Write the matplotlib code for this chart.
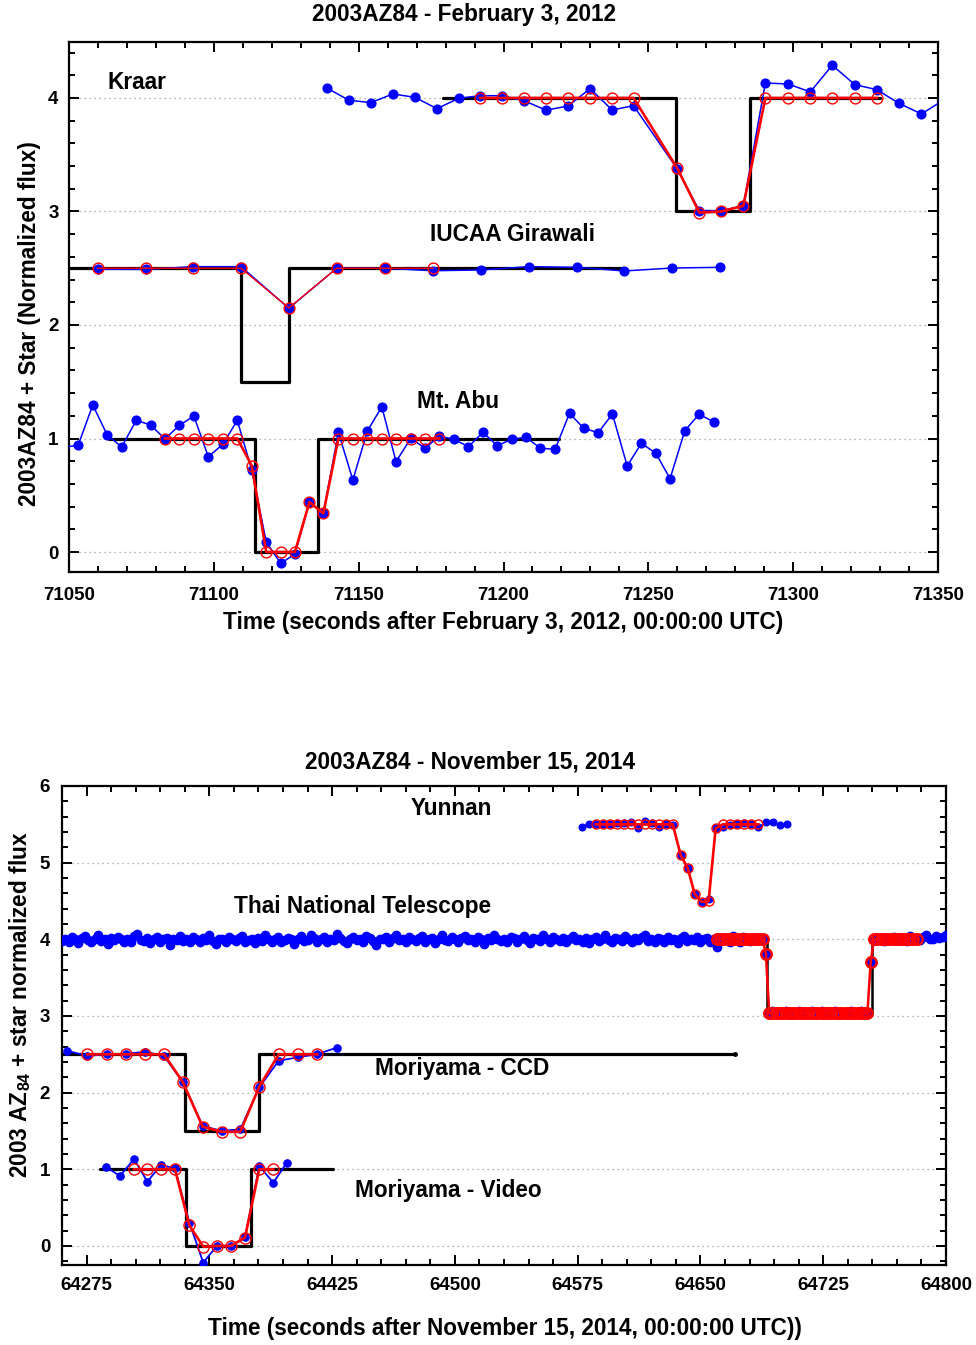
import numpy as np
import matplotlib
matplotlib.use("Agg")
import matplotlib.pyplot as plt
from matplotlib.ticker import MultipleLocator

plt.rcParams['font.family'] = ['Liberation Sans', 'DejaVu Sans']
plt.rcParams['font.weight'] = 'bold'
plt.rcParams['mathtext.fontset'] = 'custom'
plt.rcParams['mathtext.rm'] = 'Liberation Sans'
plt.rcParams['mathtext.bf'] = 'Liberation Sans:bold'

# ---------------- Panel 1 : February 3, 2012 ----------------
kraar_t = [71139.0, 71146.6, 71154.2, 71161.8, 71169.4, 71177.0, 71184.6, 71191.9,
           71199.5, 71207.1, 71214.7, 71222.3, 71229.9, 71237.5, 71244.9, 71260.0,
           71267.6, 71275.2, 71282.8, 71290.4, 71298.3, 71305.9, 71313.5, 71321.3,
           71328.9, 71336.5, 71344.3, 71351.8]
kraar_obs = [4.088, 3.980, 3.959, 4.035, 4.006, 3.906, 3.997, 4.020,
             4.020, 3.976, 3.892, 3.930, 4.082, 3.894, 3.932, 3.374,
             3.007, 3.007, 3.051, 4.132, 4.123, 4.053, 4.288, 4.117,
             4.073, 3.953, 3.859, 3.980]
kraar_model_t = kraar_t[7:25]
kraar_model = [4.0, 4.0, 4.0, 4.0, 4.0, 4.0, 4.0, 4.0,
               3.38, 2.99, 3.0, 3.05,
               4.0, 4.0, 4.0, 4.0, 4.0, 4.0]
kraar_sq_t = [71179.0, 71259.4, 71259.4, 71285.2, 71285.2, 71330.0]
kraar_sq = [4.0, 4.0, 3.0, 3.0, 4.0, 4.0]

iucaa_t = [71059.9, 71076.5, 71092.9, 71109.4, 71125.9, 71142.4, 71159.1,
           71175.6, 71192.3, 71208.7, 71225.3, 71241.7, 71258.3, 71274.8]
iucaa_obs = [2.491, 2.490, 2.514, 2.514, 2.147, 2.500, 2.500,
             2.478, 2.485, 2.514, 2.508, 2.476, 2.502, 2.508]
iucaa_model_t = iucaa_t[0:8]
iucaa_model = [2.5, 2.5, 2.5, 2.5, 2.15, 2.5, 2.5, 2.5]
iucaa_sq_t = [71045.0, 71109.4, 71109.4, 71125.9, 71125.9, 71241.7]
iucaa_sq = [2.5, 2.5, 1.5, 1.5, 2.5, 2.5]

abu_t = [71048.2, 71053.2, 71058.2, 71063.2, 71068.2, 71073.2, 71078.2, 71083.1,
         71088.1, 71093.1, 71098.1, 71103.1, 71108.1, 71113.1, 71118.1,
         71123.1, 71128.0, 71133.0, 71137.8, 71143.0, 71148.0, 71153.0,
         71158.0, 71162.9, 71168.0, 71172.9, 71177.9, 71182.8, 71187.9,
         71192.9, 71197.8, 71202.9, 71207.8, 71212.7, 71217.8, 71222.8,
         71227.7, 71232.7, 71237.6, 71242.7, 71247.6, 71252.6, 71257.5,
         71262.6, 71267.5, 71272.5]
abu_obs = [0.920, 0.943, 1.295, 1.031, 0.925, 1.160, 1.119, 0.996,
           1.116, 1.198, 0.839, 0.949, 1.160, 0.722, 0.088,
           -0.100, -0.018, 0.438, 0.341, 1.055, 0.634, 1.066,
           1.280, 0.796, 1.002, 0.914, 1.022, 0.993, 0.928,
           1.055, 0.937, 0.993, 1.011, 0.914, 0.905, 1.222,
           1.090, 1.051, 1.216, 0.758, 0.958, 0.870, 0.646,
           1.069, 1.213, 1.148]
abu_model_t = abu_t[7:27]
abu_model = [1.0, 1.0, 1.0, 1.0, 1.0, 1.0, 0.76, 0.0, 0.0, 0.0, 0.44, 0.34,
             1.0, 1.0, 1.0, 1.0, 1.0, 1.0, 1.0, 1.0]
abu_sq_t = [71063.9, 71114.2, 71114.2, 71136.1, 71136.1, 71219.0]
abu_sq = [1.0, 1.0, 0.0, 0.0, 1.0, 1.0]

# ---------------- Panel 2 : November 15, 2014 ----------------
yun_t = [64577.5, 64581.7, 64586.0, 64590.3, 64594.6, 64598.9, 64603.1, 64607.4,
         64611.7, 64616.0, 64620.3, 64624.5, 64628.8, 64633.1, 64637.9, 64642.2,
         64646.5, 64650.8, 64655.0, 64659.3, 64663.6, 64667.9, 64672.2, 64676.4,
         64680.7, 64685.3, 64689.9, 64694.1, 64698.4, 64702.7]
yun_obs = [5.469, 5.500, 5.500, 5.500, 5.500, 5.513, 5.521, 5.530,
           5.448, 5.547, 5.521, 5.465, 5.504, 5.491, 5.100, 4.934,
           4.587, 4.491, 4.522, 5.448, 5.469, 5.491, 5.504, 5.513,
           5.504, 5.461, 5.530, 5.530, 5.487, 5.500]
yun_model_t = yun_t[2:26]
yun_model = [5.5, 5.5, 5.5, 5.5, 5.5, 5.5, 5.5, 5.5, 5.5, 5.5, 5.5, 5.5,
             5.10, 4.93, 4.59, 4.49, 4.50, 5.45,
             5.5, 5.5, 5.5, 5.5, 5.5, 5.5]

# Thai National Telescope: 2-s cadence light curve
thai_start, thai_step = 64260, 2
thai_obs = [
    3.98, 4.01, 3.97, 4.03, 4.00, 3.95, 4.02, 4.04, 3.99, 3.96,
    4.01, 4.05, 3.98, 4.00, 3.94, 4.02, 3.99, 4.03, 4.01, 3.97,
    4.00, 3.96, 4.04, 4.07, 3.99, 3.98, 4.02, 3.95, 4.01, 4.03,
    3.97, 4.00, 4.02, 3.93, 4.01, 3.99, 4.04, 3.98, 4.00, 3.96,
    4.03, 4.01, 3.97, 4.02, 3.99, 4.05, 3.98, 3.94, 4.01, 4.00,
    3.96, 4.03, 4.00, 3.98, 4.02, 4.04, 3.97, 3.99, 4.01, 3.95,
    4.02, 3.98, 4.06, 4.00, 3.97, 4.01, 4.03, 3.96, 3.99, 4.02,
    4.00, 3.94, 4.01, 4.04, 3.98, 3.99, 4.05, 4.02, 3.97, 4.00,
    4.03, 3.96, 4.01, 3.99, 4.07, 4.02, 3.98, 3.95, 4.01, 4.03,
    3.99, 4.00, 3.97, 4.04, 4.02, 3.98, 3.93, 4.01, 4.00, 4.03,
    3.97, 4.02, 4.05, 3.99, 4.01, 3.96, 4.03, 4.00, 3.98, 4.02,
    4.04, 3.97, 4.00, 4.02, 3.95, 4.01, 4.06, 3.99, 3.98, 4.03,
    4.00, 3.96, 4.02, 4.04, 3.99, 4.01, 3.97, 4.03, 4.00, 3.94,
    4.02, 3.99, 4.05, 4.01, 3.98, 4.00, 3.96, 4.03, 4.02, 3.97,
    4.01, 4.04, 3.99, 3.95, 4.02, 4.00, 3.98, 4.06, 4.01, 3.97,
    4.03, 4.00, 3.98, 4.02, 3.96, 4.01, 4.04, 3.99, 4.00, 3.97,
    4.02, 3.95, 4.01, 4.03, 3.98, 4.00, 4.05, 3.99, 3.96, 4.02,
    4.01, 3.98, 4.04, 4.00, 3.97, 4.02, 3.99, 4.03, 4.06, 3.98,
    4.00, 3.96, 4.02, 4.01, 3.97, 4.03, 3.99, 4.00, 3.95, 4.02,
    4.04, 3.98, 4.01, 3.99, 4.03, 3.97, 4.00, 4.02, 3.96, 4.01,
    3.90, 3.99, 4.02, 4.01, 3.97, 4.04, 4.00, 3.96, 4.03, 4.01,
    3.98, 4.02, 4.00, 3.99, 4.01,
    3.81,
    3.04, 3.06, 3.03, 3.05, 3.04, 3.07, 3.05, 3.03, 3.04, 3.06,
    3.05, 3.04, 3.03, 3.06, 3.05, 3.04, 3.07, 3.05, 3.03, 3.04,
    3.06, 3.05, 3.04, 3.05, 3.03, 3.06, 3.04, 3.05, 3.07, 3.04, 3.05,
    3.71,
    3.99, 4.00, 4.02, 3.98, 4.01, 4.00, 4.03, 3.99, 4.02, 4.01,
    3.98, 4.04, 4.00, 4.02, 3.99, 4.03, 4.05, 4.01, 4.00, 4.04,
    4.02, 4.03, 4.05]
thai_t = thai_start + thai_step * np.arange(len(thai_obs))
thai_model_first, thai_model_last = 200, 262   # model covers 64660 .. 64782 s
thai_model = [4.0] * 15 + [3.81] + [3.04] * 31 + [3.71] + [4.0] * 14
thai_sq_t = [64600.3, 64690.5, 64690.5, 64754.6, 64754.6, 64800.0]
thai_sq = [4.0, 4.0, 3.03, 3.03, 4.0, 4.0]

ccd_t = [64263.2, 64275.5, 64287.3, 64298.9, 64310.7, 64322.3, 64333.9, 64345.9,
         64357.6, 64368.9, 64380.5, 64392.4, 64404.2, 64416.0, 64427.8]
ccd_obs = [2.547, 2.478, 2.504, 2.504, 2.534, 2.478, 2.135, 1.565,
           1.500, 1.522, 2.070, 2.417, 2.461, 2.504, 2.586]
ccd_model_t = ccd_t[1:14]
ccd_model = [2.5, 2.5, 2.5, 2.5, 2.5, 2.135, 1.556, 1.49, 1.49, 2.078, 2.5, 2.5, 2.5]
ccd_sq_t = [64260.0, 64335.1, 64335.1, 64380.5, 64380.5, 64671.1]
ccd_sq = [2.5, 2.5, 1.5, 1.5, 2.5, 2.5]

vid_t = [64286.7, 64295.4, 64304.0, 64312.1, 64320.5, 64329.0, 64337.8,
         64346.3, 64354.5, 64363.1, 64371.8, 64380.5, 64389.1, 64397.3]
vid_obs = [1.034, 0.913, 1.135, 0.839, 1.057, 1.013, 0.304,
           -0.218, 0.0, 0.0, 0.113, 1.043, 0.826, 1.086]
vid_model_t = vid_t[2:13]
vid_model = [1.0, 1.0, 1.0, 1.0, 0.27, -0.01, 0.0, 0.0, 0.11, 1.0, 1.0]
vid_sq_t = [64283.3, 64335.7, 64335.7, 64375.3, 64375.3, 64425.7]
vid_sq = [1.0, 1.0, 0.0, 0.0, 1.0, 1.0]

# ---------------- drawing ----------------
W, H = 976, 1345
fig = plt.figure(figsize=(W / 100, H / 100), dpi=100)

BLUE = '#0000FF'
RED = '#FF0000'
FS = 16.3


def style_axes(ax, xpad, ypad):
    for sp in ax.spines.values():
        sp.set_linewidth(1.6)
    ax.tick_params(which='both', direction='in', top=True, right=True,
                   labelsize=13.5, width=1.4)
    ax.tick_params(which='major', length=7)
    ax.tick_params(which='minor', length=4)
    ax.tick_params(axis='x', which='major', pad=xpad)
    ax.tick_params(axis='y', which='major', pad=ypad)
    for lab in ax.get_xticklabels() + ax.get_yticklabels():
        lab.set_fontweight('bold')


def obs(ax, t, v, ms=6.3, lw=1.1):
    ax.plot(t, v, '-o', color=BLUE, lw=lw, ms=ms, mec=BLUE, mfc=BLUE, zorder=3)


def model(ax, t, v, ms=7.8, lw=1.9):
    ax.plot(t, v, '-', color=RED, lw=lw, zorder=4)
    ax.plot(t, v, 'o', color=RED, ms=ms, mfc='none', mec=RED, mew=1.0, zorder=5)


def square(ax, t, v, lw=2.3):
    ax.plot(t, v, '-', color='black', lw=lw, solid_capstyle='round', zorder=2)


# Top panel
ax1 = fig.add_axes([69 / W, 1 - 572 / H, (938 - 69) / W, (572 - 42) / H])
ax1.set_xlim(71050, 71350)
ax1.set_ylim(-0.176, 4.493)
for g in range(0, 5):
    ax1.axhline(g, color='#999999', lw=0.9, ls=(0, (1, 3)), zorder=1)
square(ax1, kraar_sq_t, kraar_sq)
square(ax1, iucaa_sq_t, iucaa_sq)
square(ax1, abu_sq_t, abu_sq)
obs(ax1, kraar_t, kraar_obs)
obs(ax1, iucaa_t, iucaa_obs)
obs(ax1, abu_t, abu_obs)
model(ax1, kraar_model_t, kraar_model)
model(ax1, iucaa_model_t, iucaa_model, lw=1.0)
model(ax1, abu_model_t, abu_model)
ax1.xaxis.set_major_locator(MultipleLocator(50))
ax1.xaxis.set_minor_locator(MultipleLocator(10))
ax1.yaxis.set_major_locator(MultipleLocator(1))
ax1.yaxis.set_minor_locator(MultipleLocator(0.2))
style_axes(ax1, xpad=10.5, ypad=7.5)
ax1.text(71073.5, 4.14, 'Kraar', fontsize=FS, fontweight='bold', ha='center', va='center')
ax1.text(71203, 2.80, 'IUCAA Girawali', fontsize=FS, fontweight='bold', ha='center', va='center')
ax1.text(71184.3, 1.33, 'Mt. Abu', fontsize=FS, fontweight='bold', ha='center', va='center')

fig.text(463.5 / W, 1 - 14 / H, '2003AZ84 - February 3, 2012', fontsize=FS,
         fontweight='bold', ha='center', va='center')
fig.text(503.5 / W, 1 - 623 / H, 'Time (seconds after February 3, 2012, 00:00:00 UTC)',
         fontsize=FS, fontweight='bold', ha='center', va='center')
fig.text(30 / W, 1 - 324 / H, '2003AZ84 + Star (Normalized flux)', fontsize=FS,
         fontweight='bold', ha='center', va='center', rotation=90)

# Bottom panel
ax2 = fig.add_axes([62 / W, 1 - 1265 / H, (946 - 62) / W, (1265 - 786) / H])
ax2.set_xlim(64260, 64800)
ax2.set_ylim(-0.248, 6.0)
for g in range(0, 6):
    ax2.axhline(g, color='#999999', lw=0.9, ls=(0, (1, 3)), zorder=1)
square(ax2, thai_sq_t, thai_sq, lw=1.8)
square(ax2, ccd_sq_t, ccd_sq)
square(ax2, vid_sq_t, vid_sq)
ax2.plot(ccd_sq_t[-1], ccd_sq[-1], 'o', color='black', ms=2.5, zorder=2)
ax2.plot(thai_t, thai_obs, '-o', color=BLUE, lw=1.0, ms=6.0, mec=BLUE, mfc=BLUE, zorder=3)
tm = thai_t[thai_model_first:thai_model_last]
ax2.plot(tm, thai_model, '-', color=RED, lw=1.8, zorder=4)
ax2.plot(tm, thai_model, 'o', color=RED, ms=7.5, mfc='none', mec=RED, mew=1.8, zorder=5)
obs(ax2, yun_t, yun_obs, ms=4.8, lw=1.0)
model(ax2, yun_model_t, yun_model, ms=6.5, lw=1.9)
obs(ax2, ccd_t, ccd_obs, ms=5.2, lw=1.3)
model(ax2, ccd_model_t, ccd_model, ms=8.0, lw=1.9)
obs(ax2, vid_t, vid_obs, ms=5.2, lw=1.3)
model(ax2, vid_model_t, vid_model, ms=8.0, lw=1.9)
ax2.xaxis.set_major_locator(MultipleLocator(75))
ax2.xaxis.set_minor_locator(MultipleLocator(15))
ax2.yaxis.set_major_locator(MultipleLocator(1))
ax2.yaxis.set_minor_locator(MultipleLocator(0.2))
style_axes(ax2, xpad=8.5, ypad=8.5)
ax2.text(64497.6, 5.71, 'Yunnan', fontsize=FS, fontweight='bold', ha='center', va='center')
ax2.text(64443.3, 4.43, 'Thai National Telescope', fontsize=FS, fontweight='bold',
         ha='center', va='center')
ax2.text(64504.3, 2.31, 'Moriyama - CCD', fontsize=FS, fontweight='bold', ha='center', va='center')
ax2.text(64495.8, 0.73, 'Moriyama - Video', fontsize=FS, fontweight='bold', ha='center', va='center')

fig.text(470 / W, 1 - 762 / H, '2003AZ84 - November 15, 2014', fontsize=FS,
         fontweight='bold', ha='center', va='center')
fig.text(505 / W, 1 - 1329 / H, 'Time (seconds after November 15, 2014, 00:00:00 UTC))',
         fontsize=FS, fontweight='bold', ha='center', va='center')
fig.text(20 / W, 1 - 1005 / H, r'2003 AZ$_{\mathbf{84}}$ + star normalized flux', fontsize=FS,
         fontweight='bold', ha='center', va='center', rotation=90)

fig.savefig('out.png', dpi=100)
